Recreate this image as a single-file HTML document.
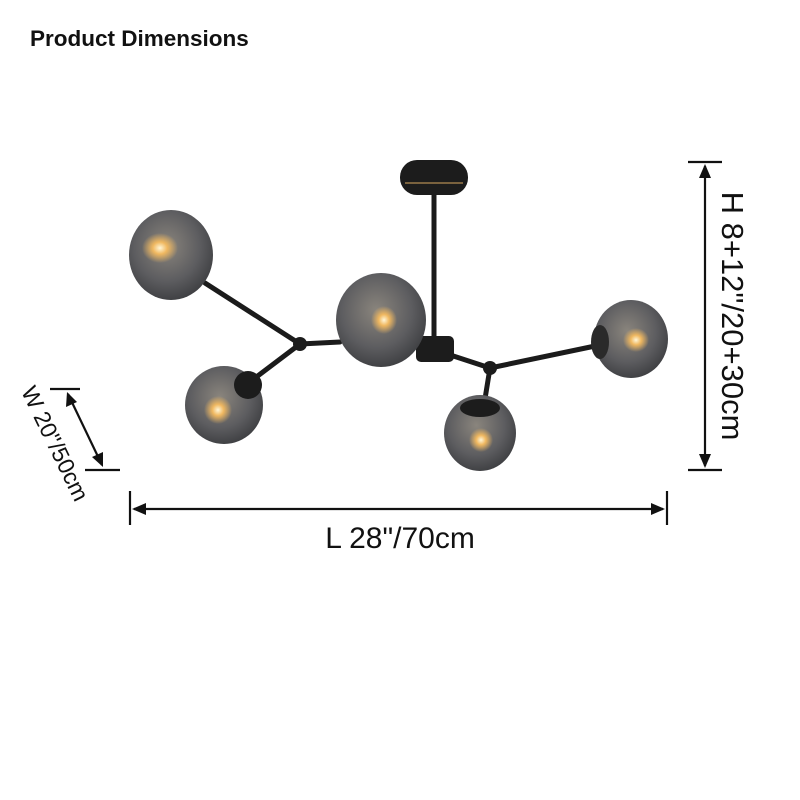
<!DOCTYPE html>
<html><head><meta charset="utf-8"><style>
body{margin:0;background:#fff;}
svg{display:block}
</style></head><body>
<svg width="800" height="800" viewBox="0 0 800 800" xmlns="http://www.w3.org/2000/svg">
<defs>
<radialGradient id="g" cx="45%" cy="40%" r="65%">
<stop offset="0" stop-color="#8a857d"/><stop offset="0.6" stop-color="#5d5d60"/><stop offset="1" stop-color="#3a3b3e"/>
</radialGradient>
<radialGradient id="b" cx="50%" cy="50%" r="50%">
<stop offset="0" stop-color="#fff6d8"/><stop offset="0.4" stop-color="#f0b860"/><stop offset="1" stop-color="#f0b860" stop-opacity="0"/>
</radialGradient>
</defs>
<rect width="800" height="800" fill="#fff"/>
<text x="30" y="46" font-family="Liberation Sans, sans-serif" font-size="22.5" font-weight="bold" fill="#111">Product Dimensions</text>

<g stroke="#1b1b1b" stroke-width="5" stroke-linecap="round" fill="none">
<line x1="434" y1="190" x2="434" y2="345"/>
<line x1="435" y1="350" x2="490" y2="368"/>
<line x1="490" y1="368" x2="600" y2="345"/>
<line x1="490" y1="368" x2="484" y2="405"/>
<line x1="340" y1="342" x2="300" y2="344"/>
<line x1="300" y1="344" x2="205" y2="283"/>
<line x1="300" y1="344" x2="255" y2="378"/>
</g>
<rect x="400" y="160" width="68" height="35" rx="17" fill="#1c1c1c"/>
<line x1="405" y1="183" x2="463" y2="183" stroke="#9a7a4a" stroke-width="1.5"/>
<rect x="416" y="336" width="38" height="26" rx="5" fill="#1c1c1c"/>
<circle cx="300" cy="344" r="7" fill="#1c1c1c"/>
<circle cx="490" cy="368" r="7" fill="#1c1c1c"/>

<ellipse cx="171" cy="255" rx="42" ry="45" fill="url(#g)"/>
<ellipse cx="160" cy="248" rx="18" ry="15" fill="url(#b)"/>
<ellipse cx="224" cy="405" rx="39" ry="39" fill="url(#g)"/>
<ellipse cx="218" cy="410" rx="14" ry="14" fill="url(#b)"/>
<circle cx="248" cy="385" r="14" fill="#1c1c1c"/>
<ellipse cx="381" cy="320" rx="45" ry="47" fill="url(#g)"/>
<ellipse cx="384" cy="320" rx="13" ry="14" fill="url(#b)"/>
<ellipse cx="480" cy="433" rx="36" ry="38" fill="url(#g)"/>
<ellipse cx="481" cy="440" rx="12" ry="12" fill="url(#b)"/>
<ellipse cx="480" cy="408" rx="20" ry="9" fill="#1c1c1c"/>
<ellipse cx="631" cy="339" rx="37" ry="39" fill="url(#g)"/>
<ellipse cx="636" cy="340" rx="13" ry="12" fill="url(#b)"/>
<ellipse cx="600" cy="342" rx="9" ry="17" fill="#2a2a2a"/>

<g stroke="#111" stroke-width="2.2" fill="none">
<line x1="130" y1="491" x2="130" y2="525"/>
<line x1="667" y1="491" x2="667" y2="525"/>
<line x1="134" y1="509" x2="663" y2="509"/>
<line x1="688" y1="162" x2="722" y2="162"/>
<line x1="688" y1="470" x2="722" y2="470"/>
<line x1="705" y1="166" x2="705" y2="466"/>
<line x1="50" y1="389" x2="80" y2="389"/>
<line x1="85" y1="470" x2="120" y2="470"/>
<line x1="68" y1="394" x2="102" y2="465"/>
</g>
<g fill="#111">
<polygon points="132,509 146,503 146,515"/>
<polygon points="665,509 651,503 651,515"/>
<polygon points="705,164 699,178 711,178"/>
<polygon points="705,468 699,454 711,454"/>
<polygon points="67,392 66,407 77,402"/>
<polygon points="103,467 92,457 103,452"/>
</g>
<text x="400" y="548" text-anchor="middle" font-family="Liberation Sans, sans-serif" font-size="30" fill="#111">L 28"/70cm</text>
<text transform="translate(722,316) rotate(90)" text-anchor="middle" font-family="Liberation Sans, sans-serif" font-size="31" fill="#111">H 8+12"/20+30cm</text>
<text transform="translate(48,447) rotate(64)" text-anchor="middle" font-family="Liberation Sans, sans-serif" font-size="23" fill="#111">W 20"/50cm</text>
</svg>
</body></html>
